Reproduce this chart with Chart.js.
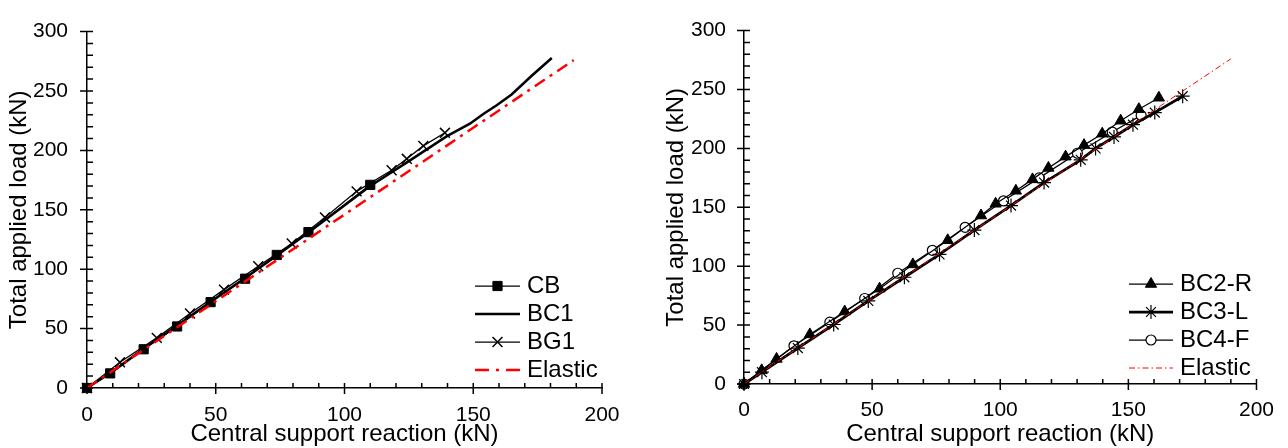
<!DOCTYPE html>
<html lang="en">
<head>
    <meta charset="UTF-8">
    <title>Total applied load vs central support reaction</title>
    <script src="https://cdn.jsdelivr.net/npm/chart.js"></script>
    <style>
        body { margin: 0; background: #fff; }
        .panel { position: absolute; top: 0; width: 644px; height: 448px; }
        #left { left: 0; }
        #right { left: 644px; }
    </style>
</head>
<body>
    <div class="panel" id="left"><canvas id="chartLeft" width="644" height="448"></canvas></div>
    <div class="panel" id="right"><canvas id="chartRight" width="644" height="448"></canvas></div>

    <script>
        // Values: central support reaction (x) / total applied load (y), both in kN

        // left panel
        const cbX = [0, 9, 22, 35, 48, 61.4, 73.7, 86, 110];
        const cbY = [0, 12.3, 32.6, 51.8, 72.3, 92, 112, 131.2, 171];

        const bc1X = [0, 10, 22, 35, 48, 61, 74, 86, 98, 110, 125, 139.8, 148.7, 153.9, 159.1, 164.9, 172.7, 180.5];
        const bc1Y = [0, 14, 33, 52.5, 72.5, 92, 112, 131, 150.5, 170, 191, 212, 222.5, 230.7, 238, 247.1, 262.8, 277.8];

        const bg1X = [0, 12.8, 27.1, 40, 53.2, 66.5, 79.5, 92.4, 104.7, 118.3, 124.2, 130.6, 139];
        const bg1Y = [0, 21.6, 42.2, 62.7, 82.8, 102.5, 121.6, 143.6, 165.5, 183.3, 192.9, 203.8, 214.8];

        const elasticLeftX = [0, 189];
        const elasticLeftY = [0, 276];

        // right panel
        const bc2rX = [0, 6.9, 12.7, 25.7, 39.3, 52.9, 65.9, 79.5, 92.5, 98.2, 106.1, 112.6, 118.8, 125.5, 132.7, 139.8, 147, 154.1, 161.9];
        const bc2rY = [0, 11.6, 21.3, 42.1, 61.5, 80.9, 101.5, 122, 143, 153, 164, 173.7, 183.4, 193, 202.8, 212.5, 223.5, 233.3, 243];

        const bc3lX = [0, 7, 21, 35, 48.5, 62.6, 76.3, 89.9, 104.2, 117.1, 131.4, 137.2, 144.4, 151.8, 160.3, 171.2];
        const bc3lY = [0, 10, 30.5, 50.5, 70.5, 90.6, 110, 130.7, 151.5, 171, 190.3, 200, 209.7, 220.1, 230.4, 244.3];

        const bc4fX = [0, 19.5, 33.5, 47.1, 60, 73.5, 86.3, 101.3, 115.2, 130.1, 143.7, 155];
        const bc4fY = [0, 32.4, 52.5, 72.6, 94, 113.5, 133, 155.5, 175, 195.9, 213.9, 228];

        const elasticRightX = [0, 190];
        const elasticRightY = [0, 276];

        // axis ranges and labelled ticks
        const xMax = 200, yMax = 300, majorStep = 50, minorStep = 10;
        const xTitle = 'Central support reaction (kN)';
        const yTitle = 'Total applied load (kN)';

        const FONT = '"Liberation Sans", Arial, sans-serif';

        function pts(xs, ys) {
            return xs.map((x, i) => ({ x: x, y: ys[i] }));
        }

        // Excel style tick marks: majors cross the axis, minors sit inside
        const axisTicks = {
            id: 'axisTicks',
            afterDraw(chart) {
                const ctx = chart.ctx;
                const area = chart.chartArea;
                const xs = chart.scales.x, ys = chart.scales.y;
                ctx.save();
                ctx.strokeStyle = '#000';
                ctx.lineWidth = 1.5;
                ctx.beginPath();
                for (let v = 0; v <= yMax; v += minorStep) {
                    const p = ys.getPixelForValue(v);
                    const major = v % majorStep === 0;
                    ctx.moveTo(area.left - (major ? 7 : 0), p);
                    ctx.lineTo(area.left + 6, p);
                }
                for (let v = 0; v <= xMax; v += minorStep) {
                    const p = xs.getPixelForValue(v);
                    const major = v % majorStep === 0;
                    ctx.moveTo(p, area.bottom - 5);
                    ctx.lineTo(p, area.bottom + (major ? 6 : 0));
                }
                ctx.stroke();
                ctx.restore();
            }
        };

        // legend box in the lower right corner of the plot
        const cornerLegend = {
            id: 'cornerLegend',
            afterDraw(chart, args, opts) {
                const ctx = chart.ctx;
                ctx.save();
                chart.data.datasets.forEach((ds, i) => {
                    const y = opts.top + i * opts.rowH;
                    const x0 = opts.left, x1 = opts.left + opts.lineLen;
                    ctx.save();
                    ctx.strokeStyle = ds.borderColor;
                    ctx.lineWidth = ds.borderWidth;
                    ctx.setLineDash(ds.legendDash || ds.borderDash || []);
                    ctx.beginPath();
                    ctx.moveTo(x0, y);
                    ctx.lineTo(x1, y);
                    ctx.stroke();
                    ctx.restore();
                    if (ds.pointRadius > 0) {
                        ctx.save();
                        ctx.fillStyle = ds.pointBackgroundColor;
                        ctx.strokeStyle = ds.pointBorderColor;
                        ctx.lineWidth = ds.pointBorderWidth;
                        Chart.helpers.drawPoint(ctx, {
                            pointStyle: ds.pointStyle,
                            radius: ds.pointRadius,
                            rotation: 0,
                            borderWidth: ds.pointBorderWidth
                        }, (x0 + x1) / 2, y);
                        ctx.restore();
                    }
                    ctx.fillStyle = '#000';
                    ctx.font = '24px ' + FONT;
                    ctx.textBaseline = 'middle';
                    ctx.textAlign = 'left';
                    ctx.fillText(ds.label, x1 + opts.gap, y);
                });
                ctx.restore();
            }
        };

        function makeOptions(cfg) {
            return {
                responsive: false,
                animation: false,
                layout: { padding: { left: 0, right: cfg.padRight, top: 23, bottom: 0 } },
                plugins: {
                    legend: { display: false },
                    tooltip: { enabled: false },
                    cornerLegend: cfg.legend
                },
                scales: {
                    x: {
                        type: 'linear',
                        min: 0,
                        max: xMax,
                        afterFit: s => { s.height = cfg.xAxisHeight; },
                        grid: { display: false, drawTicks: false },
                        border: { display: true, color: '#000', width: 1.5 },
                        ticks: { stepSize: majorStep, padding: cfg.xTickPad, color: '#000', font: { family: FONT, size: 21 } },
                        title: {
                            display: true, text: xTitle, color: '#000',
                            font: { family: FONT, size: 24, lineHeight: 1.1 },
                            padding: { top: 0, bottom: 0 }
                        }
                    },
                    y: {
                        type: 'linear',
                        min: 0,
                        max: yMax,
                        afterFit: s => { s.width = cfg.yAxisWidth; },
                        grid: { display: false, drawTicks: false },
                        border: { display: true, color: '#000', width: 1.5 },
                        ticks: { stepSize: majorStep, padding: cfg.yTickPad, color: '#000', font: { family: FONT, size: 21 } },
                        title: {
                            display: true, text: yTitle, color: '#000',
                            font: { family: FONT, size: 24, lineHeight: 1.1 },
                            padding: { top: cfg.yTitlePad, bottom: 0 }
                        }
                    }
                }
            };
        }

        new Chart(document.getElementById('chartLeft'), {
            type: 'scatter',
            data: {
                datasets: [
                    {
                        label: 'CB', data: pts(cbX, cbY), showLine: true, order: 1, clip: false,
                        borderColor: '#000', borderWidth: 1.25,
                        pointStyle: 'rect', pointRadius: 6.5,
                        pointBackgroundColor: '#000', pointBorderColor: '#000', pointBorderWidth: 1
                    },
                    {
                        label: 'BC1', data: pts(bc1X, bc1Y), showLine: true, order: 1, clip: false,
                        borderColor: '#000', borderWidth: 2.5, pointRadius: 0
                    },
                    {
                        label: 'BG1', data: pts(bg1X, bg1Y), showLine: true, order: 1, clip: false,
                        borderColor: '#000', borderWidth: 1.25,
                        pointStyle: 'crossRot', pointRadius: 7,
                        pointBackgroundColor: '#000', pointBorderColor: '#000', pointBorderWidth: 1.5
                    },
                    {
                        label: 'Elastic', data: pts(elasticLeftX, elasticLeftY), showLine: true, order: 0, clip: false,
                        borderColor: '#ff0000', borderWidth: 2.5, borderDash: [12, 6, 3, 6],
                        legendDash: [14, 7, 3, 7], pointRadius: 0
                    }
                ]
            },
            options: makeOptions({
                padRight: 42, xAxisHeight: 60, yAxisWidth: 87,
                xTickPad: 15, yTickPad: 19, yTitlePad: 6,
                legend: { left: 475, top: 286, rowH: 28, lineLen: 45, gap: 7 }
            }),
            plugins: [axisTicks, cornerLegend]
        });

        new Chart(document.getElementById('chartRight'), {
            type: 'scatter',
            data: {
                datasets: [
                    {
                        label: 'BC2-R', data: pts(bc2rX, bc2rY), showLine: true, order: 1, clip: false,
                        borderColor: '#000', borderWidth: 1.25,
                        pointStyle: 'triangle', pointRadius: 6.5,
                        pointBackgroundColor: '#000', pointBorderColor: '#000', pointBorderWidth: 1
                    },
                    {
                        label: 'BC3-L', data: pts(bc3lX, bc3lY), showLine: true, order: 1, clip: false,
                        borderColor: '#000', borderWidth: 2.75,
                        pointStyle: 'star', pointRadius: 7,
                        pointBackgroundColor: '#000', pointBorderColor: '#000', pointBorderWidth: 1.2
                    },
                    {
                        label: 'BC4-F', data: pts(bc4fX, bc4fY), showLine: true, order: 1, clip: false,
                        borderColor: '#000', borderWidth: 1.25,
                        pointStyle: 'circle', pointRadius: 5,
                        pointBackgroundColor: '#fff', pointBorderColor: '#000', pointBorderWidth: 1.2
                    },
                    {
                        label: 'Elastic', data: pts(elasticRightX, elasticRightY), showLine: true, order: 0, clip: false,
                        borderColor: '#ff0000', borderWidth: 1, borderDash: [6, 3, 1.5, 3],
                        pointRadius: 0
                    }
                ]
            },
            options: makeOptions({
                padRight: 30, xAxisHeight: 64, yAxisWidth: 100,
                xTickPad: 14, yTickPad: 18, yTitlePad: 19,
                legend: { left: 485, top: 284, rowH: 28, lineLen: 44, gap: 7 }
            }),
            plugins: [axisTicks, cornerLegend]
        });
    </script>
</body>
</html>
